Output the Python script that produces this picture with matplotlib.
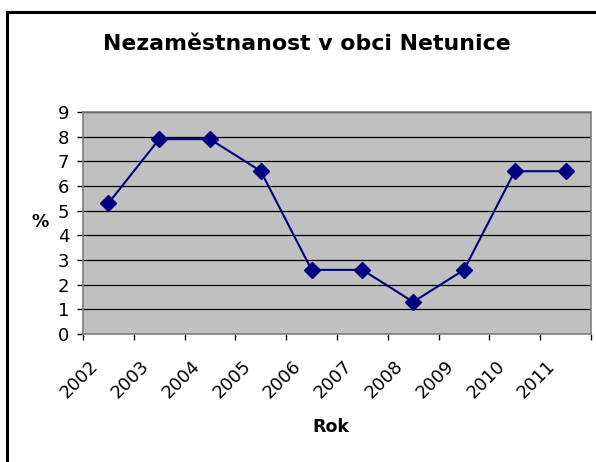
import matplotlib
matplotlib.use("Agg")
import matplotlib.pyplot as plt
from matplotlib.patches import Rectangle
from matplotlib.transforms import ScaledTranslation

years = ["2002", "2003", "2004", "2005", "2006", "2007", "2008", "2009", "2010", "2011"]
values = [5.3, 7.9, 7.9, 6.6, 2.6, 2.6, 1.3, 2.6, 6.6, 6.6]
yticks = [0, 1, 2, 3, 4, 5, 6, 7, 8, 9]

plt.rcParams['font.family'] = ['DejaVu Sans']

fig = plt.figure(figsize=(5.96, 4.62), dpi=100)
fig.patch.set_facecolor('white')

# outer chart frame
fig.patches.append(Rectangle((6.5/596, -0.1), 1.2, 1 - 12.5/462 + 0.1, transform=fig.transFigure,
                             fill=False, edgecolor='black', linewidth=2.2, zorder=0))

ax = fig.add_axes([83/596, 1 - 334/462, (591 - 83)/596, (334 - 112)/462])
ax.set_facecolor('#c0c0c0')

xs = [i + 0.5 for i in range(len(years))]
ax.plot(xs, values, color='#000080', linewidth=1.5, marker='D', markersize=8,
        markerfacecolor='#000080', markeredgecolor='#000080', zorder=3)

ax.set_xlim(0, len(years))
ax.set_ylim(0, 9)
ax.set_yticks(yticks)
ax.set_yticklabels([str(v) for v in yticks], fontsize=13)
ax.yaxis.grid(True, color='black', linewidth=0.9)
ax.set_axisbelow(True)

ax.set_xticks(range(len(years) + 1))
ax.set_xticklabels([])
ax.set_xticks(xs, minor=True)
ax.set_xticklabels(years, minor=True, rotation=45, ha='right', va='center',
                   rotation_mode='anchor', fontsize=13)
ax.tick_params(axis='x', which='minor', length=0, pad=21)
ax.tick_params(axis='x', which='major', length=4, color='black', width=1)
ax.tick_params(axis='y', length=4, color='black', width=1, pad=6)
shift = ScaledTranslation(-13 / 100, 0, fig.dpi_scale_trans)
for lab in ax.get_xticklabels(minor=True):
    lab.set_transform(lab.get_transform() + shift)

for s in ax.spines.values():
    s.set_color('#808080')
    s.set_linewidth(1.2)

fig.text(307/596, 1 - 44/462, "Nezaměstnanost v obci Netunice", ha='center', va='center',
         fontsize=15.8, fontweight='bold')
fig.text(40/596, 1 - 222/462, "%", ha='center', va='center', fontsize=12.5, fontweight='bold')
fig.text(331/596, 1 - 427/462, "Rok", ha='center', va='center', fontsize=12.5, fontweight='bold')

fig.savefig("out.png", dpi=100)
